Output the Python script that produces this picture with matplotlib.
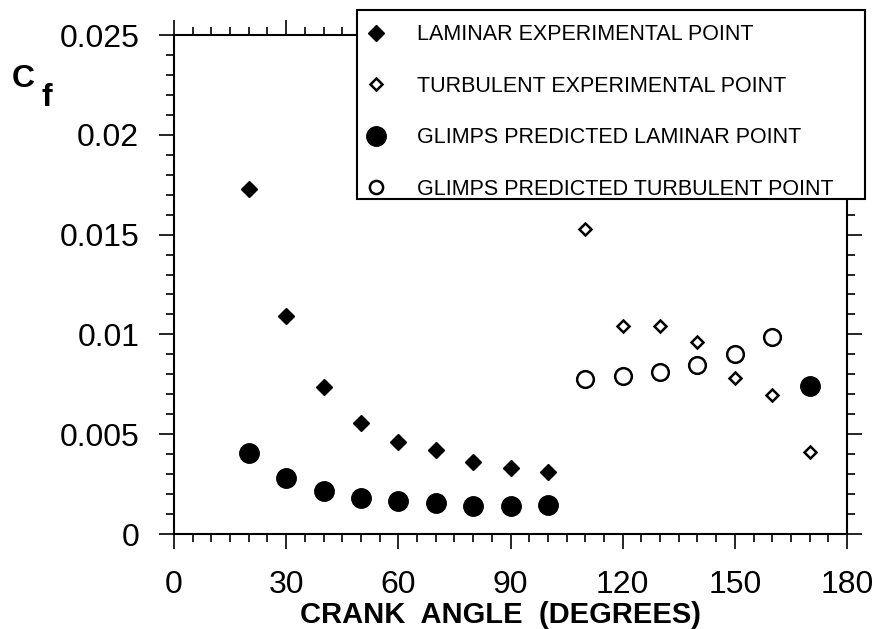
"""
Cf vs crank angle: laminar / turbulent experimental points and GLIMPS predictions
"""

import matplotlib

matplotlib.use("Agg")
import matplotlib.pyplot as plt
from matplotlib.patches import Rectangle
from matplotlib.ticker import MultipleLocator, FuncFormatter

plt.rcParams["font.family"] = ["Liberation Sans", "DejaVu Sans"]

# --- data ---
lam_exp_angle = [20, 30, 40, 50, 60, 70, 80, 90, 100]
lam_exp_cf = [0.0173, 0.0109, 0.00735, 0.00558, 0.00463, 0.00421, 0.00362, 0.00332, 0.00312]

turb_exp_angle = [110, 120, 130, 140, 150, 160, 170]
turb_exp_cf = [0.0153, 0.0104, 0.0104, 0.00964, 0.00783, 0.00696, 0.00412]

lam_pred_angle = [20, 30, 40, 50, 60, 70, 80, 90, 100, 170]
lam_pred_cf = [0.00407, 0.00279, 0.00217, 0.00179, 0.00165, 0.00154, 0.00142, 0.00142, 0.00145, 0.00743]

turb_pred_angle = [110, 120, 130, 140, 150, 160]
turb_pred_cf = [0.00775, 0.00792, 0.00813, 0.00847, 0.00902, 0.00986]

labels = [
    "LAMINAR EXPERIMENTAL POINT",
    "TURBULENT EXPERIMENTAL POINT",
    "GLIMPS PREDICTED LAMINAR POINT",
    "GLIMPS PREDICTED TURBULENT POINT",
]

W, H = 877, 629
fig = plt.figure(figsize=(W / 100, H / 100), dpi=100)
ax = fig.add_axes([174 / W, 1 - 534 / H, (847 - 174) / W, (534 - 35) / H])

h1, = ax.plot(lam_exp_angle, lam_exp_cf, "D", color="black", ms=7.8, ls="none")
h2, = ax.plot(turb_exp_angle, turb_exp_cf, "D", mfc="white", mec="black", mew=1.8, ms=6.5, ls="none")
h3, = ax.plot(lam_pred_angle, lam_pred_cf, "o", color="black", ms=14, ls="none")
h4, = ax.plot(turb_pred_angle, turb_pred_cf, "o", mfc="white", mec="black", mew=1.8, ms=12, ls="none")

ax.set_xlim(0, 180)
ax.set_ylim(0, 0.025)
ax.xaxis.set_major_locator(MultipleLocator(30))
ax.xaxis.set_minor_locator(MultipleLocator(5))
ax.yaxis.set_major_locator(MultipleLocator(0.005))
ax.yaxis.set_minor_locator(MultipleLocator(0.001))
ax.yaxis.set_major_formatter(FuncFormatter(lambda v, p: f"{v:g}"))

for s in ax.spines.values():
    s.set_linewidth(1.5)
ax.tick_params(which="both", direction="out", top=True, right=True, width=1.2)
ax.tick_params(which="major", length=11)
ax.tick_params(which="minor", length=5.5)
ax.tick_params(axis="x", which="major", labelsize=23, pad=15)
ax.tick_params(axis="y", which="major", labelsize=23, pad=14)

ax.set_xlabel("CRANK  ANGLE  (DEGREES)", fontsize=21, fontweight="bold")
ax.xaxis.set_label_coords((501 - 174) / 673, (534 - 601) / 499)

# y label C_f
fig.text(12 / W, 1 - 87 / H, "C", fontsize=23, fontweight="bold", ha="left", va="baseline")
fig.text(41 / W, 1 - 106 / H, "f", fontsize=23, fontweight="bold", ha="left", va="baseline")

# legend box drawn by hand (sits over the top-right corner of the axes)
box = Rectangle((357 / W, 1 - 199 / H), (865 - 357) / W, (199 - 10) / H,
                transform=fig.transFigure, facecolor="white", edgecolor="black",
                linewidth=1.5, zorder=3)
fig.patches.append(box)

leg = fig.legend([h1, h2, h3, h4], labels, loc="upper left",
                 bbox_to_anchor=(357 / W, 1 - 10 / H), frameon=False,
                 fontsize=15.5, borderpad=0.66, labelspacing=1.42,
                 handlelength=0.4, handletextpad=1.75, borderaxespad=0)
leg.set_zorder(5)
leg.legend_handles[3].set_markersize(9.5)

fig.savefig("out.png", dpi=100)
